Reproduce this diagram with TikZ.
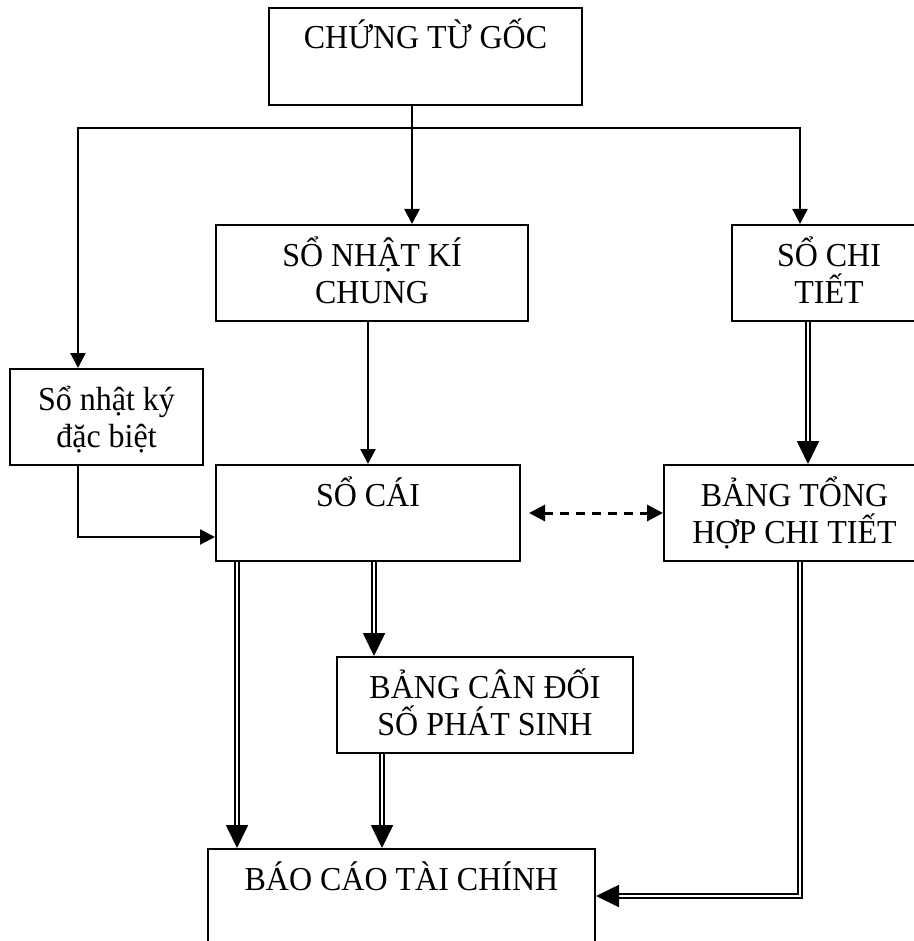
\documentclass[tikz,border=0pt]{standalone}
\usepackage{fontspec}
\setmainfont{Liberation Serif}[FakeStretch=0.955]
\usetikzlibrary{arrows.meta}

% box text: fixed-size paragraph, first baseline 41pt below the top edge
\newcommand\boxlabel[3]{\parbox[c][#2][t]{#1}{\centering\lineskiplimit=-100pt\rule{0pt}{41pt}#3\par}}

\tikzset{
  box/.style={draw, line width=2pt, inner sep=0pt, anchor=north west,
    font=\fontsize{33.5}{37}\selectfont},
  arrow/.style={line width=2.3pt, -{Triangle[length=15pt,width=15pt]}},
  dbl/.style={double, line width=1.8pt, double distance=2.6pt,
    -{Triangle[length=23pt,width=22pt]}},
  dashlink/.style={line width=3pt, dash pattern=on 9pt off 7pt,
    {Triangle[length=16pt,width=16pt]}-{Triangle[length=16pt,width=16pt]}},
}

\begin{document}
\begin{tikzpicture}[x=1pt, y=-1pt]
\useasboundingbox (0,0) rectangle (913,941);

% boxes
\node[box] (goc)     at (268,7)   {\boxlabel{313pt}{97pt}{CHỨNG TỪ GỐC}};
\node[box] (chung)   at (215,224) {\boxlabel{312pt}{96pt}{SỔ NHẬT KÍ\\CHUNG}};
\node[box] (chitiet) at (731,224) {\boxlabel{194pt}{96pt}{SỔ CHI\\TIẾT}};
\node[box] (nkdb)    at (9,368)   {\boxlabel{193pt}{96pt}{Sổ nhật ký\\đặc biệt}};
\node[box] (socai)   at (215,464) {\boxlabel{304pt}{96pt}{SỔ CÁI}};
\node[box] (tonghop) at (663,464) {\boxlabel{261pt}{96pt}{BẢNG TỔNG\\HỢP CHI TIẾT}};
\node[box] (candoi)  at (336,656) {\boxlabel{296pt}{96pt}{BẢNG CÂN ĐỐI\\SỐ PHÁT SINH}};
\node[box] (baocao)  at (207,848) {\boxlabel{387pt}{110pt}{BÁO CÁO TÀI CHÍNH}};

% junction points
\coordinate (jc) at (412,128);
\coordinate (jl) at (78,128);
\coordinate (jr) at (800,128);
\coordinate (jd) at (808,0);
\coordinate (ja) at (237,0);
\coordinate (jb) at (374,0);
\coordinate (jx) at (382,0);
\coordinate (je) at (800,896);

% single-line flows
\draw[arrow] (goc.south -| jc) -- (chung.north -| jc);
\draw[arrow] (jc) -| (nkdb.north -| jl);
\draw[arrow] (jc) -| (chitiet.north -| jr);
\draw[arrow] (chung.south -| socai.north) -- (socai.north);
\draw[arrow] (nkdb.south -| jl) |- ([yshift=-24pt]socai.west);

% reconciliation
\draw[dashlink] ([xshift=8pt]socai.east) -- (tonghop.west);

% double-line flows
\draw[dbl] (chitiet.south -| jd) -- (tonghop.north -| jd);
\draw[dbl] (socai.south -| ja) -- (baocao.north -| ja);
\draw[dbl] (socai.south -| jb) -- (candoi.north -| jb);
\draw[dbl] (candoi.south -| jx) -- (baocao.north -| jx);
\draw[dbl] (tonghop.south -| je) |- (baocao.east |- je);
\end{tikzpicture}
\end{document}
